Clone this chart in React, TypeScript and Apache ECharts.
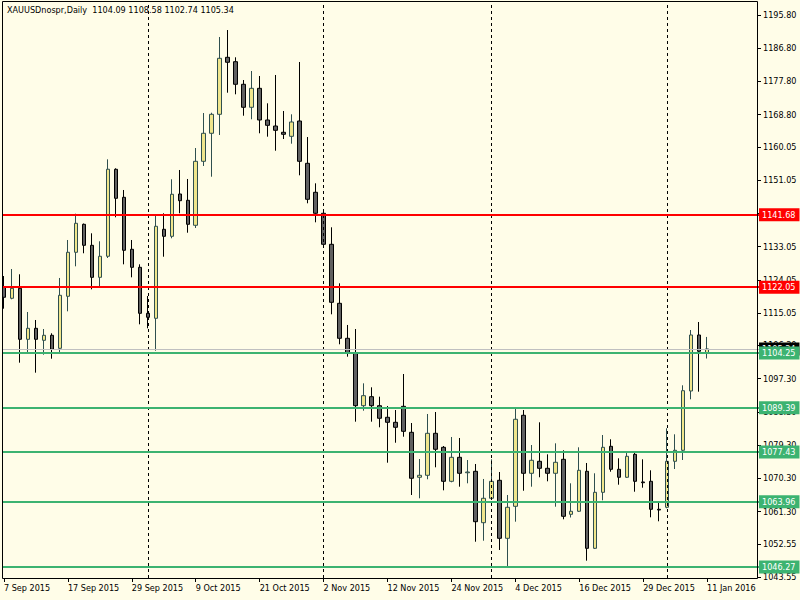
import React, { useEffect, useRef } from "react";
import * as echarts from "echarts";

// ---- chart text ----
const symbolName = "XAUUSDnospr,Daily";
const lastQuote = ["1104.09", "1108.58", "1102.74", "1105.34"];

// ---- calendar of the bars (weekdays, without these market holidays) ----
const firstBarDate = "2015-09-07";
const marketHolidays = ["2015-12-25", "2016-01-01"];
const barCount = 89;
const emptySlotsRight = 6;
const monthNames = ["Jan", "Feb", "Mar", "Apr", "May", "Jun", "Jul", "Aug", "Sep", "Oct", "Nov", "Dec"];

// ---- OHLC values ----
const opens = [
  1122.02, 1119.05, 1121.75, 1107.94, 1110.92, 1107.67, 1109.03, 1105.5, 1119.59, 1131.51,
  1139.09, 1133.4, 1124.73, 1130.43, 1153.99, 1146.4, 1132.32, 1127.44, 1114.98, 1113.63,
  1137.74, 1135.84, 1147.3, 1145.59, 1138.82, 1156.15, 1163.74, 1168.88, 1184.32, 1183.13,
  1177.01, 1170.78, 1175.92, 1167.34, 1165.71, 1164.01, 1162.92, 1167.07, 1155.61, 1147.76,
  1142.07, 1133.67, 1117.69, 1108.21, 1104.15, 1089.96, 1092.4, 1089.96, 1086.82, 1085.46,
  1089.79, 1082.75, 1070.57, 1071.11, 1082.48, 1078.69, 1069.48, 1075.98, 1071.8, 1072.19,
  1058.27, 1064.88, 1069.75, 1054.04, 1062.71, 1087.36, 1071.65, 1074.9, 1073.0, 1071.65,
  1075.44, 1060.54, 1061.36, 1072.19, 1051.33, 1066.5, 1078.96, 1072.73, 1070.57, 1076.79,
  1069.3, 1069.48, 1061.9, 1062.44, 1074.9, 1077.88, 1093.94, 1109.11, 1104.09,
];
const highs = [
  1125.08, 1126.98, 1125.55, 1115.34, 1113.17, 1110.73, 1109.57, 1124.55, 1134.84, 1141.96,
  1139.3, 1136.65, 1134.49, 1156.69, 1154.26, 1148.38, 1134.84, 1128.25, 1119.67, 1141.61,
  1142.07, 1151.28, 1153.8, 1151.36, 1159.75, 1169.23, 1169.31, 1189.82, 1191.71, 1184.32,
  1178.17, 1180.61, 1179.26, 1171.86, 1179.53, 1169.78, 1168.88, 1183.05, 1162.73, 1150.19,
  1142.69, 1138.28, 1123.11, 1111.82, 1110.73, 1096.02, 1094.94, 1092.4, 1089.88, 1088.79,
  1098.54, 1085.27, 1075.52, 1087.71, 1088.25, 1079.04, 1081.48, 1081.21, 1075.25, 1074.17,
  1070.11, 1075.44, 1072.0, 1065.77, 1089.06, 1088.79, 1079.31, 1085.46, 1076.79, 1079.77,
  1077.88, 1068.94, 1078.69, 1074.44, 1071.65, 1082.02, 1080.86, 1075.71, 1077.5, 1077.5,
  1075.44, 1072.46, 1063.87, 1083.84, 1082.21, 1095.48, 1110.46, 1112.63, 1108.58,
];
const lows = [
  1116.23, 1118.78, 1101.61, 1104.15, 1098.9, 1103.77, 1102.69, 1104.15, 1115.52, 1127.71,
  1131.24, 1121.48, 1122.03, 1129.96, 1140.99, 1128.25, 1124.73, 1112.0, 1110.92, 1104.85,
  1130.31, 1135.3, 1142.07, 1136.81, 1138.09, 1154.88, 1151.98, 1163.28, 1174.73, 1174.3,
  1168.5, 1167.53, 1163.74, 1162.82, 1159.02, 1162.19, 1160.92, 1152.36, 1144.78, 1139.63,
  1133.21, 1114.71, 1106.59, 1103.23, 1085.63, 1088.6, 1085.63, 1084.11, 1074.52, 1079.93,
  1081.56, 1065.77, 1064.88, 1070.03, 1073.27, 1067.04, 1069.21, 1068.02, 1068.94, 1053.12,
  1053.39, 1064.42, 1050.88, 1046.54, 1058.54, 1066.93, 1068.02, 1070.57, 1069.48, 1062.6,
  1059.19, 1059.68, 1061.17, 1047.98, 1051.14, 1064.34, 1072.08, 1068.56, 1070.38, 1066.66,
  1067.75, 1059.73, 1058.65, 1062.17, 1072.81, 1075.25, 1091.69, 1093.75, 1102.74,
];
const closes = [
  1119.32, 1121.75, 1107.94, 1110.92, 1107.94, 1109.03, 1105.23, 1119.86, 1131.51, 1139.36,
  1133.4, 1124.73, 1130.43, 1154.0, 1146.13, 1132.05, 1127.44, 1114.98, 1113.9, 1138.55,
  1135.84, 1147.22, 1145.48, 1139.09, 1156.15, 1163.74, 1168.88, 1184.05, 1182.97, 1177.01,
  1170.78, 1175.92, 1167.34, 1165.9, 1164.55, 1163.47, 1166.8, 1156.15, 1145.86, 1142.07,
  1133.67, 1117.96, 1108.21, 1104.15, 1089.96, 1092.67, 1089.96, 1086.55, 1085.46, 1084.11,
  1083.02, 1070.3, 1071.11, 1082.48, 1078.15, 1069.48, 1075.98, 1071.65, 1072.0, 1058.54,
  1064.88, 1069.48, 1054.04, 1062.44, 1086.28, 1071.65, 1075.17, 1073.0, 1071.65, 1074.63,
  1060.0, 1061.36, 1072.46, 1051.33, 1066.5, 1078.69, 1072.73, 1070.57, 1076.25, 1069.48,
  1069.1, 1061.9, 1061.7, 1074.9, 1077.88, 1094.02, 1109.11, 1104.69, 1105.34,
];

// ---- horizontal levels ----
const resistanceLevels = [1141.68, 1122.05];
const supportLevels = [1104.25, 1089.39, 1077.43, 1063.96, 1046.27];
const bidPrice = 1105.34;

// ---- price scale ----
const priceMin = 1043.29;
const priceMax = 1199.57;
const priceTicks = [
  1043.55, 1052.55, 1061.3, 1070.3, 1079.3, 1088.3, 1097.3, 1106.3, 1115.05, 1124.05,
  1133.05, 1142.05, 1151.05, 1160.05, 1168.8, 1177.8, 1186.8, 1195.8,
];

// ---- styling ----
const BG = "#FFFDE8";
const FONT = "'DejaVu Sans Condensed', 'DejaVu Sans', sans-serif";
const BULL_FILL = "#F0E68C";
const BULL_LINE = "#2F4F4F";
const BEAR_FILL = "#606060";
const BEAR_LINE = "#000000";
const RED = "#FF0000";
const GREEN = "#3CB371";

function buildBars() {
  const labels: string[] = [];
  const months: number[] = [];
  const d = new Date(firstBarDate + "T00:00:00Z");
  while (labels.length < barCount) {
    const dow = d.getUTCDay();
    const iso = d.toISOString().slice(0, 10);
    if (dow !== 0 && dow !== 6 && !marketHolidays.includes(iso)) {
      labels.push(`${d.getUTCDate()} ${monthNames[d.getUTCMonth()]} ${d.getUTCFullYear()}`);
      months.push(d.getUTCMonth());
    }
    d.setUTCDate(d.getUTCDate() + 1);
  }
  return { labels, months };
}

function buildOption() {
  const { labels, months } = buildBars();
  const categories = labels.slice();
  for (let i = 0; i < emptySlotsRight; i++) categories.push(`_${i}`);
  const separators: string[] = [];
  for (let i = 1; i < months.length; i++) if (months[i] !== months[i - 1]) separators.push(labels[i]);

  const candles = opens.map((o, i) => [o, closes[i], lows[i], highs[i]]);

  const priceLabel = (bg: string, v: number) => ({
    show: true,
    position: "end",
    distance: 0,
    formatter: v.toFixed(2),
    backgroundColor: bg,
    color: "#FFFFFF",
    fontSize: 9,
    fontFamily: FONT,
    padding: [2, 4, 2, 3],
  });

  const levelLines: any[] = [
    { yAxis: bidPrice, lineStyle: { color: "#C0C0C0", width: 1, type: "solid" }, label: priceLabel("#000000", bidPrice) },
    ...resistanceLevels.map((v) => ({ yAxis: v, lineStyle: { color: RED, width: 2, type: "solid" }, label: priceLabel(RED, v) })),
    ...supportLevels.map((v) => ({ yAxis: v, lineStyle: { color: GREEN, width: 2, type: "solid" }, label: priceLabel(GREEN, v) })),
  ];

  return {
    animation: false,
    backgroundColor: BG,
    textStyle: { fontFamily: FONT },
    title: {
      text: `${symbolName}  ${lastQuote.join(" ")}`,
      left: 7,
      top: 5,
      padding: 0,
      textStyle: { fontSize: 9, fontWeight: "normal", color: "#000", fontFamily: FONT },
    },
    grid: { left: -1, right: 41, top: 1, bottom: 22, containLabel: false },
    xAxis: {
      type: "category",
      data: categories,
      boundaryGap: true,
      axisLine: { show: false },
      axisTick: { show: true, interval: 7, alignWithLabel: true, length: 4, lineStyle: { color: "#000" } },
      axisLabel: {
        interval: 7,
        align: "left",
        margin: 5,
        color: "#000",
        fontSize: 9,
        fontFamily: FONT,
        formatter: (v: string) => (v.startsWith("_") ? "" : v),
      },
      splitLine: { show: false },
    },
    yAxis: {
      type: "value",
      position: "right",
      offset: -2,
      min: priceMin,
      max: priceMax,
      axisLine: { show: false },
      axisTick: { show: true, length: 4, customValues: priceTicks, lineStyle: { color: "#000" } },
      axisLabel: {
        customValues: priceTicks,
        formatter: (v: number) => v.toFixed(2),
        margin: 6,
        color: "#000",
        fontSize: 9,
        fontFamily: FONT,
      },
      splitLine: { show: false },
    },
    series: [
      {
        type: "line",
        data: [],
        z: 1,
        silent: true,
        markLine: {
          silent: true,
          symbol: ["none", "none"],
          label: { show: false },
          lineStyle: { color: "#000", width: 1, type: [3, 3] },
          data: separators.map((s) => ({ xAxis: s })),
        },
      },
      {
        type: "candlestick",
        data: candles,
        barWidth: 4,
        z: 3,
        itemStyle: {
          color: BULL_FILL,
          color0: BEAR_FILL,
          borderColor: BULL_LINE,
          borderColor0: BEAR_LINE,
          borderWidth: 1,
        },
        markLine: {
          silent: true,
          symbol: ["none", "none"],
          data: levelLines,
        },
      },
    ],
    graphic: [
      { type: "rect", z: 99, silent: true, shape: { x: 0, y: 0, width: 2, height: 580 }, style: { fill: BG } },
      {
        type: "rect",
        z: 100,
        silent: true,
        shape: { x: 2.5, y: 1.5, width: 755, height: 577 },
        style: { fill: "none", stroke: "#000", lineWidth: 1 },
      },
    ],
  };
}

export default function App() {
  const ref = useRef<HTMLDivElement>(null);
  useEffect(() => {
    if (!ref.current) return;
    const chart = echarts.init(ref.current, null, { renderer: "svg", width: 800, height: 600 });
    chart.setOption(buildOption() as any);
    return () => chart.dispose();
  }, []);
  return (
    <div
      ref={ref}
      style={{ position: "fixed", left: 0, top: 0, width: 800, height: 600, background: BG }}
    />
  );
}
